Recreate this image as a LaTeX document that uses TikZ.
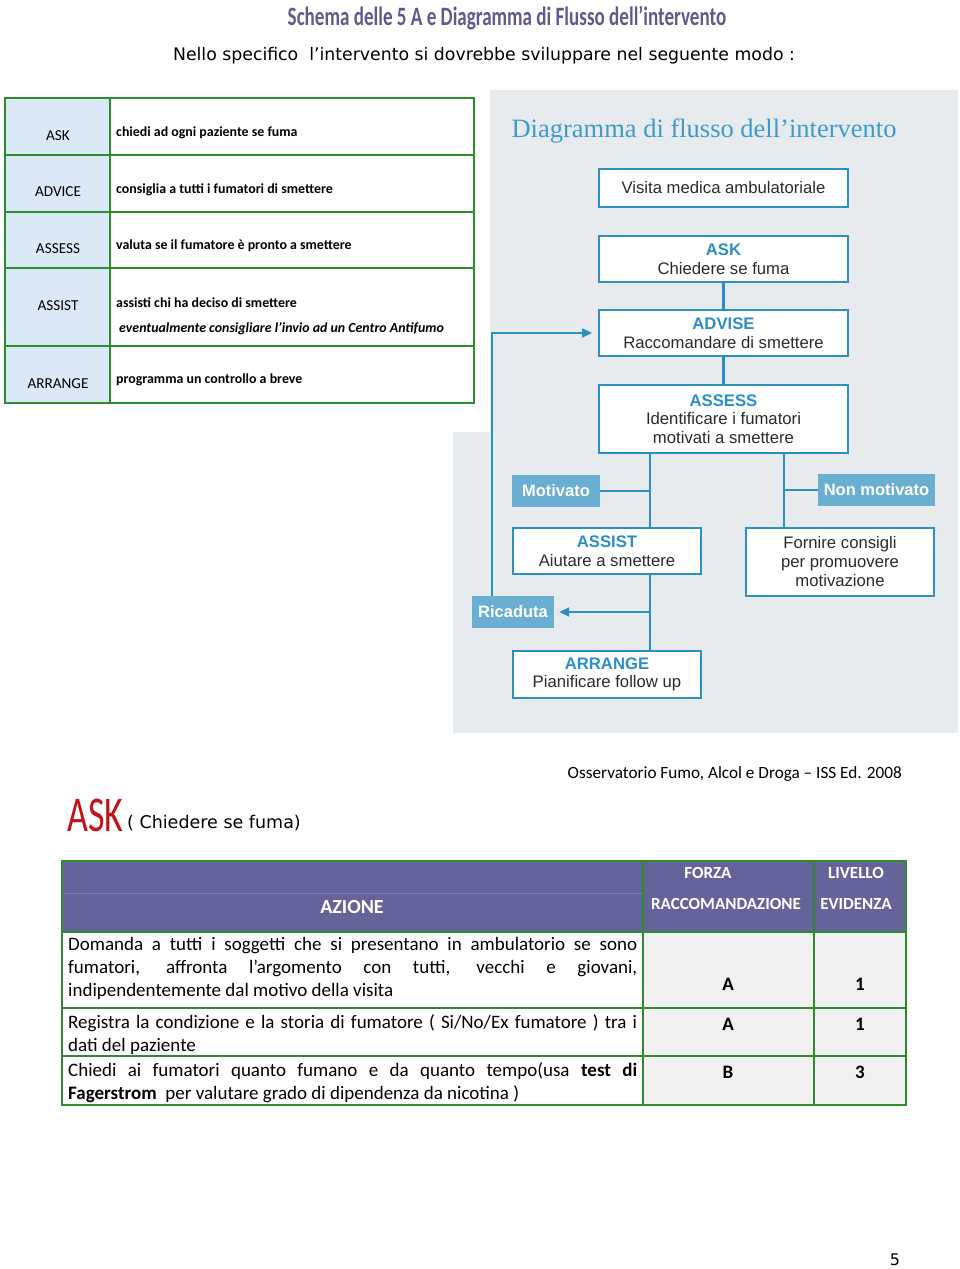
\documentclass[tikz,border=0pt]{standalone}
\usepackage{fontspec}
\usetikzlibrary{arrows.meta}
\setmainfont{Carlito}
\newfontfamily\verd{DejaVu Sans}
\newfontfamily\helv{Liberation Sans}
\newfontfamily\tms{Liberation Serif}
\newfontfamily\cond[FakeStretch=0.72]{Carlito}
\newcommand{\fsz}[2]{\fontsize{#1}{#2}\selectfont}
\hyphenpenalty=10000
\exhyphenpenalty=10000
\definecolor{fblue}{HTML}{2B8FC4}
\definecolor{lbl}{HTML}{6AAFD1}
\definecolor{tblue}{HTML}{3D9BCB}
\definecolor{ftext}{HTML}{2A2A2A}
\definecolor{tgreen}{HTML}{2E8B2E}
\definecolor{lcol}{HTML}{DBE9F7}
\definecolor{hpurple}{HTML}{65649A}
\definecolor{hline}{HTML}{7E7DAE}
\definecolor{askred}{HTML}{C0141B}
\definecolor{ttl}{HTML}{5D5B8D}
\definecolor{panel}{HTML}{E8EBEE}
\definecolor{cgray}{HTML}{F1F1F1}
\tikzset{
  fbox/.style={draw=fblue, line width=1.8, fill=white, inner sep=0, align=center,
    text=ftext, font=\helv\fsz{16.7}{18.5}},
  lab/.style={fill=lbl, inner sep=0, text=white, font=\helv\bfseries\fsz{16.5}{18}},
  conn/.style={draw=fblue, line width=2.6},
  thin/.style={draw=fblue, line width=1.8},
  tip/.style={-{Triangle[length=10pt,width=9pt]}},
  grid/.style={draw=tgreen, line width=2},
  ltxt/.style={anchor=west, inner sep=0, font=\bfseries\fsz{13.9}{16}, text=black},
  llab/.style={inner sep=0, font=\fsz{15.2}{17}, text=black},
  body/.style={anchor=north west, inner sep=0, text width=569pt, align=justify,
    font=\fsz{19}{23}, text=black},
  val/.style={inner sep=0, font=\bfseries\fsz{19}{21}, text=black},
  head/.style={inner sep=0, font=\bfseries\fsz{17}{19}, text=white},
}
\begin{document}
\begin{tikzpicture}[x=1pt,y=-1pt]
\useasboundingbox (0,0) rectangle (960,1269);
\fill[white] (0,0) rectangle (960,1269);

% titles
\node[inner sep=0, text=ttl, font=\cond\bfseries\fsz{26.5}{29}] (title) at (507,18) {Schema delle 5 A e Diagramma di Flusso dell’intervento};
\node[inner sep=0, text=black, font=\verd\fsz{17.3}{20}] (intro) at (484,56) {Nello specifico\ \ l’intervento si dovrebbe sviluppare nel seguente modo :};

% left table
\fill[lcol] (5,98) rectangle (110,403);
\draw[grid] (5,98) rectangle (474,403);
\draw[grid] (110,98) -- (110,403);
\foreach \yy in {155,212,268,346} \draw[grid] (5,\yy) -- (474,\yy);
\node[llab] (l1) at (58,136) {ASK};
\node[llab] (l2) at (58,192) {ADVICE};
\node[llab] (l3) at (58,249) {ASSESS};
\node[llab] (l4) at (58,306) {ASSIST};
\node[llab] (l5) at (58,384) {ARRANGE};
\node[ltxt] (r1) at (116,133) {chiedi ad ogni paziente se fuma};
\node[ltxt] (r2) at (116,190) {consiglia a tutti i fumatori di smettere};
\node[ltxt] (r3) at (116,246) {valuta se il fumatore è pronto a smettere};
\node[ltxt] (r4) at (116,303) {assisti chi ha deciso di smettere};
\node[ltxt, font=\bfseries\itshape\fsz{13.9}{16}] (r4b) at (119,329) {eventualmente consigliare l’invio ad un Centro Antifumo};
\node[ltxt] (r5) at (116,380) {programma un controllo a breve};

% flow panel
\fill[panel] (490,90) rectangle (958,432);
\fill[panel] (453,432) rectangle (958,733);
\node[inner sep=0, text=tblue, font=\tms\fsz{26.5}{28}] (ftitle) at (704,131) {Diagramma di flusso dell’intervento};

\node[fbox, minimum width=249, minimum height=38] (visita) at (723.5,188) {Visita medica ambulatoriale};
\node[fbox, minimum width=249, minimum height=46] (ask) at (723.5,259) {{\bfseries\color{fblue}ASK}\\Chiedere se fuma};
\node[fbox, minimum width=249, minimum height=46] (advise) at (723.5,333) {{\bfseries\color{fblue}ADVISE}\\Raccomandare di smettere};
\node[fbox, minimum width=249, minimum height=68] (assess) at (723.5,419) {{\bfseries\color{fblue}ASSESS}\\Identificare i fumatori\\motivati a smettere};
\node[lab, minimum width=88, minimum height=32] (motivato) at (556,491) {Motivato};
\node[lab, minimum width=117, minimum height=32] (nonmot) at (876.5,490) {Non motivato};
\node[fbox, minimum width=188, minimum height=46] (assist) at (607,551) {{\bfseries\color{fblue}ASSIST}\\Aiutare a smettere};
\node[fbox, minimum width=188, minimum height=68, font=\helv\fsz{16.7}{19}] (fornire) at (840,562) {Fornire consigli\\per promuovere\\motivazione};
\node[lab, minimum width=82, minimum height=32] (ricaduta) at (513,612) {Ricaduta};
\node[fbox, minimum width=188, minimum height=47] (arrange) at (607,674.5) {{\bfseries\color{fblue}ARRANGE}\\Pianificare follow up};

\coordinate (jL) at (650,0);
\coordinate (jR) at (784,0);
\coordinate (fb) at (492,0);
\draw[conn] (ask) -- (advise);
\draw[conn] (advise) -- (assess);
\draw[conn] (assess.south -| jL) -- (assist.north -| jL);
\draw[conn] (assist.south -| jL) -- (arrange.north -| jL);
\draw[conn] (assess.south -| jR) -- (fornire.north -| jR);
\draw[thin] (motivato.east) -- (motivato.east -| jL);
\draw[thin] (nonmot.west) -- (nonmot.west -| jR);
\draw[thin, tip] (ricaduta.east -| jL) -- ([xshift=5]ricaduta.east);
\draw[thin, tip] (ricaduta.north -| fb) -- (advise.west -| fb) -- ([xshift=-6]advise.west);

% ASK section
\node[anchor=east, inner sep=0, font=\fsz{17.2}{19}, text=black] (source) at (902,774) {Osservatorio Fumo, Alcol e Droga – ISS Ed. 2008};
\node[anchor=base west, inner sep=0, text=askred, font=\cond\fsz{50}{52}] (askbig) at (67,831) {ASK};
\node[anchor=base west, inner sep=0, text=black, font=\verd\fsz{17.5}{20}] (asksub) at (127,828) {( Chiedere se fuma)};

% bottom table
\fill[hpurple] (62,861) rectangle (906,932);
\draw[hline, line width=0.8] (62,893) -- (643,893);
\fill[cgray] (643,932) rectangle (906,1105);
\draw[grid] (62,861) rectangle (906,1105);
\draw[grid] (643,861) -- (643,1105);
\draw[grid] (814,861) -- (814,1105);
\foreach \yy in {932,1008,1056} \draw[grid] (62,\yy) -- (906,\yy);

\node[head, font=\bfseries\fsz{20}{22}] (hazione) at (352,907) {AZIONE};
\node[head] (hforza) at (708,873) {FORZA};
\node[head] (hracc) at (726,904) {RACCOMANDAZIONE};
\node[head] (hliv) at (856,873) {LIVELLO};
\node[head] (hevid) at (856,904) {EVIDENZA};

\node[body] (b1) at (68,937.5) {Domanda a tutti i soggetti che si presentano in ambulatorio se sono\linebreak fumatori, affronta l’argomento con tutti, vecchi e giovani,\linebreak indipendentemente dal motivo della visita};
\node[body] (b2) at (68,1014.5) {Registra la condizione e la storia di fumatore ( Si/No/Ex fumatore ) tra i\linebreak dati del paziente};
\node[body] (b3) at (68,1062.5) {Chiedi ai fumatori quanto fumano e da quanto tempo(usa \textbf{test di}\linebreak \textbf{Fagerstrom}\ \ per valutare grado di dipendenza da nicotina )};

\node[val] (v1a) at (728,984) {A};
\node[val] (v1b) at (860,984) {1};
\node[val] (v2a) at (728,1024) {A};
\node[val] (v2b) at (860,1024) {1};
\node[val] (v3a) at (728,1072) {B};
\node[val] (v3b) at (860,1072) {3};

\node[inner sep=0, font=\verd\fsz{16}{18}, text=black] (pnum) at (895,1260) {5};
\end{tikzpicture}
\end{document}
